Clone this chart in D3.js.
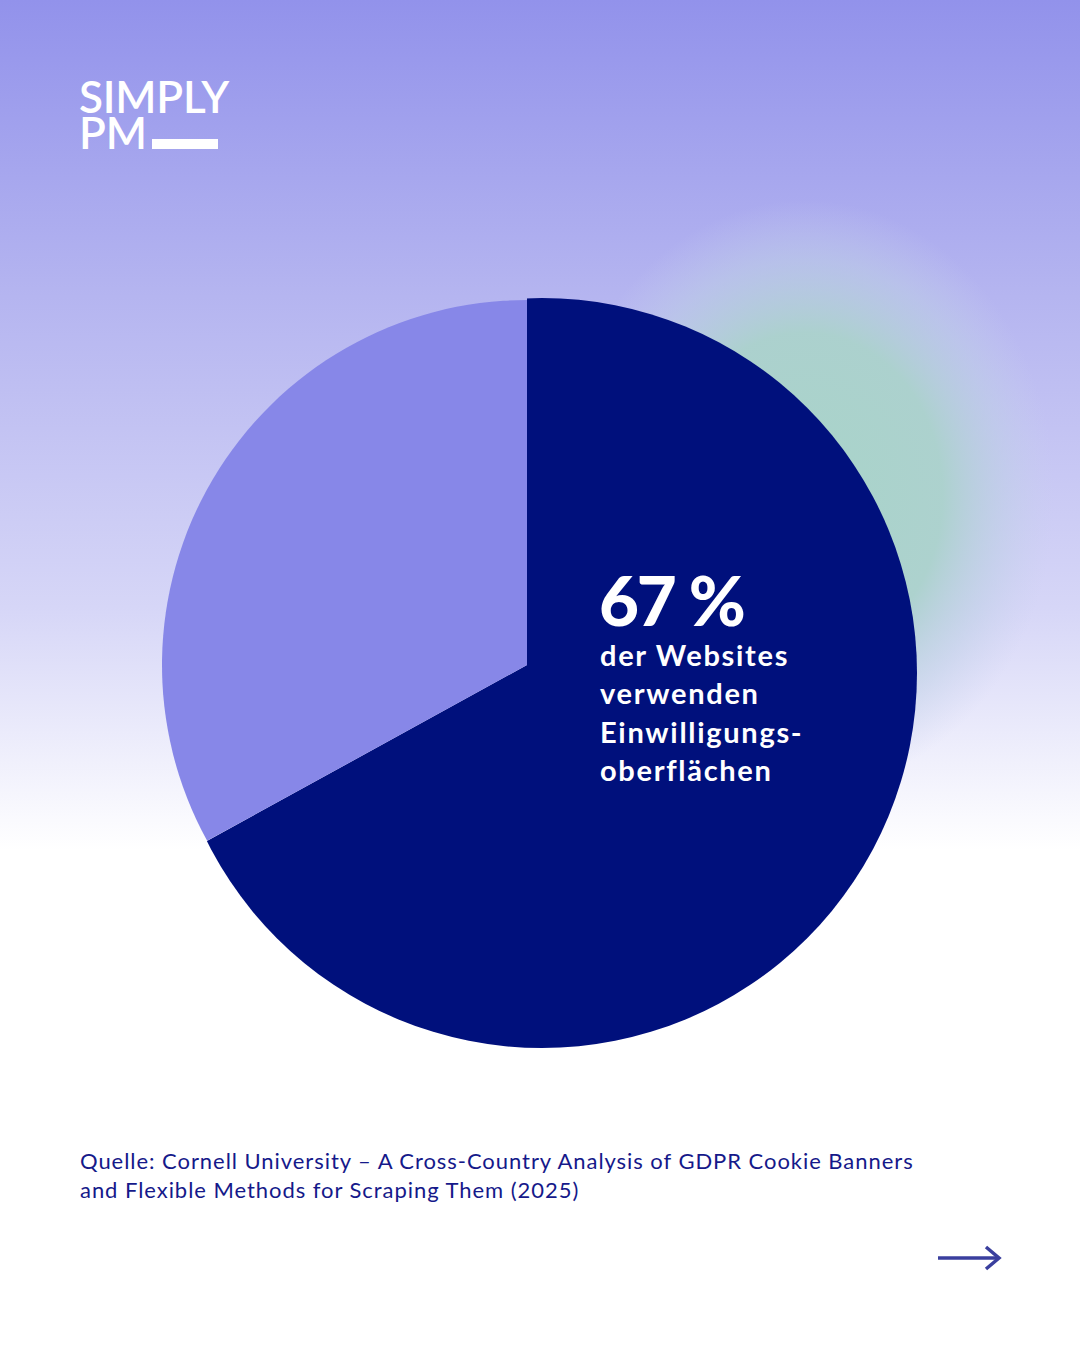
<!DOCTYPE html>
<html>
<head>
<meta charset="utf-8">
<script src="https://cdn.jsdelivr.net/npm/d3@7"></script>
<style>
  html, body { margin: 0; padding: 0; background: #fff; }
  svg { display: block; }
</style>
</head>
<body>
<svg id="chart"></svg>
<script>
const width = 1080;
const height = 1350;

// data
const categories = ["verwenden Einwilligungsoberflächen", "übrige Websites"];
const shares = [67, 33];
const headline = "67 %";
const captionLines = ["der Websites", "verwenden", "Einwilligungs-", "oberflächen"];
const sourceLines = [
    "Quelle: Cornell University – A Cross-Country Analysis of GDPR Cookie Banners",
    "and Flexible Methods for Scraping Them (2025)"
];

const svg = d3.select('#chart').attr('width', width).attr('height', height)
const defs = svg.append('defs')

// background gradient
const bg = defs.append('linearGradient').attr('id', 'bg')
    .attr('x1', 0).attr('y1', 0).attr('x2', 0).attr('y2', 1)
bg.append('stop').attr('offset', '0%').attr('stop-color', '#9292eb')
bg.append('stop').attr('offset', '22%').attr('stop-color', '#b5b5f0')
bg.append('stop').attr('offset', '45%').attr('stop-color', '#d6d6f7')
bg.append('stop').attr('offset', '63%').attr('stop-color', '#ffffff')
bg.append('stop').attr('offset', '100%').attr('stop-color', '#ffffff')

const glow = defs.append('radialGradient').attr('id', 'glow')
glow.append('stop').attr('offset', '0%').attr('stop-color', '#a8d4c9').attr('stop-opacity', 1)
glow.append('stop').attr('offset', '55%').attr('stop-color', '#abd2cc').attr('stop-opacity', 0.95)
glow.append('stop').attr('offset', '80%').attr('stop-color', '#bdd0e4').attr('stop-opacity', 0.5)
glow.append('stop').attr('offset', '100%').attr('stop-color', '#c8d0ee').attr('stop-opacity', 0)

svg.append('rect').attr('width', width).attr('height', height).attr('fill', 'url(#bg)')
svg.append('ellipse')
    .attr('cx', 805).attr('cy', 495).attr('rx', 250).attr('ry', 295)
    .attr('fill', 'url(#glow)')

// logo
const logo = svg.append('text').attr('fill', '#fff')
    .style('font-family', 'Lato, sans-serif').style('font-weight', 600)
    .attr('font-size', 44)
logo.append('tspan').attr('x', 79).attr('y', 113).attr('letter-spacing', -0.2).text('SIMPLY')
logo.append('tspan').attr('x', 79).attr('y', 149).attr('letter-spacing', -0.2).text('PM')
svg.append('rect').attr('x', 152).attr('y', 139).attr('width', 66).attr('height', 10).attr('fill', '#fff')

// pie
const cx = 527, cy = 665;
const color = d3.scaleOrdinal().domain(categories).range(['#00107c', '#8787e8'])
const pie = d3.pie().sort(null).value(d => d.value)
const arcs = pie(categories.map((c, i) => ({ name: c, value: shares[i] })))

defs.append('clipPath').attr('id', 'darkclip')
    .append('circle').attr('cx', 542 - cx).attr('cy', 673 - cy).attr('r', 375)

const radius = [420, 365]
const g = svg.append('g').attr('transform', `translate(${cx},${cy})`)
g.selectAll('path.slice')
    .data(arcs)
    .join('path')
    .classed('slice', true)
    .attr('d', (d, i) => d3.arc().innerRadius(0).outerRadius(radius[i])(d))
    .attr('clip-path', (d, i) => i === 0 ? 'url(#darkclip)' : null)
    .style('fill', d => color(d.data.name))
    .style('stroke', 'none')

// big label
const label = svg.append('text').attr('fill', '#fff').style('font-family', 'Lato, sans-serif')
label.append('tspan').attr('x', 599).attr('y', 626)
    .attr('font-size', 69).attr('font-weight', 900)
    .attr('letter-spacing', -2.2)
    .text(headline)
label.selectAll('tspan.cap')
    .data(captionLines)
    .join('tspan')
    .classed('cap', true)
    .attr('x', 600)
    .attr('y', (d, i) => 666 + i * 38.3)
    .attr('font-size', 29)
    .attr('font-weight', 700)
    .attr('letter-spacing', 1.7)
    .text(d => d)

// source
svg.append('g').selectAll('text')
    .data(sourceLines)
    .join('text')
    .attr('x', 80)
    .attr('y', (d, i) => 1169 + i * 29)
    .attr('font-size', 22)
    .attr('letter-spacing', 0.95)
    .attr('fill', '#15198a')
    .style('font-family', 'Lato, sans-serif')
    .style('font-weight', 400)
    .text(d => d)

// arrow
const arrow = svg.append('g').attr('stroke', '#3a3f9e').attr('stroke-width', 3.5).attr('fill', 'none')
arrow.append('line').attr('x1', 938).attr('y1', 1258).attr('x2', 998).attr('y2', 1258)
arrow.append('path').attr('d', 'M986,1247 L999,1258 L986,1269')
</script>
</body>
</html>
